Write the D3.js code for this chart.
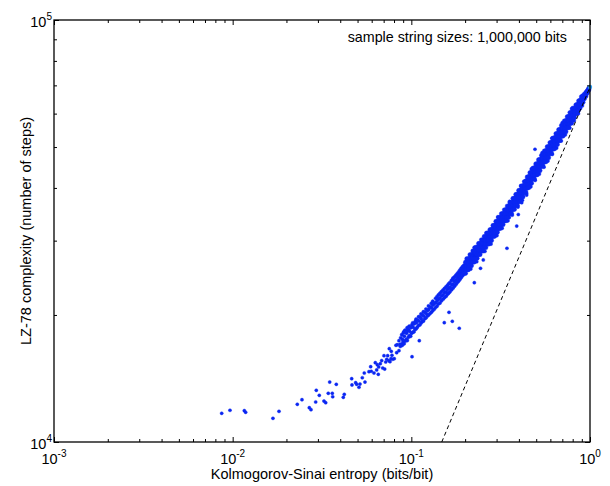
<!DOCTYPE html>
<html><head><meta charset="utf-8">
<script src="https://cdn.jsdelivr.net/npm/d3@7"></script>
<style>
body{margin:0;background:#fff}
svg{display:block}
text{font-family:"Liberation Sans",Arial,Helvetica,sans-serif;fill:#000}
</style>
</head><body>
<svg id="chart" width="610" height="486"></svg>
<script>
// ---------- data ----------
const xMajor = [0.001, 0.01, 0.1, 1];
const xTickExp = ["-3", "-2", "-1", "0"];
const yMajor = [1e4, 1e5];
const yTickExp = ["4", "5"];
const xTitle = "Kolmogorov-Sinai entropy (bits/bit)";
const yTitle = "LZ-78 complexity (number of steps)";
const note = "sample string sizes: 1,000,000 bits";

// sparse low-entropy tail [entropy, complexity]
const tailPoints = [[0.00868,11695],[0.00966,11890],[0.01162,11865],[0.01182,11760],[0.01681,11380],[0.01817,11820],[0.02300,12285],[0.02443,12595],[0.02685,12057],[0.02744,11929],[0.02915,12440],[0.02938,13260],[0.03054,12900],[0.03244,12505],[0.03316,12390],[0.03429,13045],[0.03492,13870],[0.03611,13045],[0.03630,12800],[0.03802,13700],[0.04161,12760],[0.04215,12970],[0.04636,14125],[0.04654,13650],[0.04880,13820],[0.04944,13700],[0.05093,13480],[0.05160,13720],[0.05315,14200],[0.05454,14570],[0.05503,13870],[0.05794,14680],[0.05922,15080],[0.05968,14710],[0.06180,14570],[0.06284,15415],[0.06398,14815],[0.06448,15250],[0.06565,15060],[0.06532,14470],[0.06703,15330],[0.06824,15590],[0.06913,14975],[0.07030,16015],[0.07094,14890],[0.07186,15475],[0.07279,15705],[0.07373,16015],[0.07469,15590],[0.07526,16640],[0.07595,15500],[0.07692,15755],[0.07722,16405],[0.07791,16050],[0.07862,15705],[0.08025,15755],[0.08203,16950],[0.08278,16280],[0.08342,17005],[0.08526,17380],[0.08526,16460],[0.08636,17045]];

// points falling below / beside the main band
const outlierPoints = [[0.1009,15925],[0.1108,17380],[0.1529,19180],[0.1696,19320],[0.1855,18600],[0.1625,20290],[0.2252,23850],[0.2439,25800],[0.2528,27000],[0.3430,28780],[0.3889,32490],[0.3969,34600],[0.4147,36900],[0.4421,38480],[0.4922,49400]];

// transition zone of the band
const transitionPoints = [[0.0868,16850],[0.0872,17650],[0.0880,17050],[0.0884,17950],[0.0889,16950],[0.0893,17500],[0.0898,17250],[0.0903,18150],[0.0911,17100],[0.0914,17800],[0.0910,18250],[0.0925,17350],[0.0922,18400],[0.0937,17500],[0.0940,18100],[0.0949,17400],[0.0952,18350],[0.0948,18650],[0.0962,17700],[0.0964,18450],[0.0974,17850],[0.0977,18300],[0.0973,18800],[0.0990,17800],[0.0992,18650],[0.1004,18100],[0.1007,18950],[0.1019,18200],[0.1022,18700],[0.1018,19150],[0.1035,18250],[0.1037,19050],[0.1049,18500],[0.1052,19300],[0.1064,18550],[0.1067,19150],[0.1063,19550],[0.1079,18700],[0.1082,19450],[0.1099,18900],[0.1102,19350],[0.1098,19800],[0.1117,18950],[0.1120,19750],[0.1134,19150],[0.1137,19600],[0.1133,20100],[0.1150,19300],[0.1152,20000],[0.1169,19350],[0.1172,19900],[0.1168,20350],[0.1189,19600],[0.1192,20300],[0.1209,19700],[0.1212,20150],[0.1208,20650],[0.1229,19900],[0.1232,20500],[0.1249,20000],[0.1252,20600],[0.1248,21000],[0.1271,20150],[0.1274,20900],[0.1294,20300],[0.1297,20800],[0.1293,21300],[0.1319,20500],[0.1322,21100],[0.1318,21550],[0.1344,20650],[0.1347,21300],[0.1369,20850],[0.1372,21400],[0.1368,21900],[0.1394,21000],[0.1397,21650],[0.1393,22100],[0.1419,21250],[0.1422,21800],[0.1418,22300],[0.1446,21350],[0.1449,21950],[0.1445,22500],[0.1474,21600],[0.1477,22200],[0.1473,22700],[0.1504,21800],[0.1507,22350],[0.1503,22900],[0.1534,22000],[0.1537,22600],[0.1533,23100],[0.1564,22150],[0.1567,22700],[0.1563,23300],[0.1594,22400],[0.1597,23000],[0.1593,23500],[0.1619,22550],[0.1622,23150],[0.1618,23700],[0.1645,22700],[0.1648,23250],[0.1644,23850],[0.1679,22950],[0.1682,23550],[0.1678,24150],[0.1709,23150],[0.1712,23700],[0.1708,24250],[0.1711,24450],[0.1744,23400],[0.1747,24000],[0.1743,24600],[0.1779,23650],[0.1782,24250],[0.1778,24850],[0.1814,23900],[0.1817,24500],[0.1813,25100],[0.1816,24800],[0.1844,24100],[0.1847,24700],[0.1843,25300],[0.1871,24300],[0.1874,24950],[0.1870,25550],[0.1873,25200],[0.1904,24550],[0.1907,25150],[0.1903,25800],[0.1906,25450],[0.1939,24800],[0.1942,25400],[0.1938,26050],[0.1941,25700],[0.1974,25000],[0.1977,25600],[0.1973,26250],[0.1976,25950]];

// dense band: [entropy, [complexities at that entropy]]
const bandRows = [
[0.2010,[25100,25620,26010,26140,26660]],[0.2045,[25600,26125,26255,26650,27175]],[0.2085,[25606,26137,26535,26668,27198]],
[0.2130,[26179,26716,26850,27253,27790]],[0.2170,[26176,26718,27125,27261,27803]],[0.2210,[26720,27268,27405,27816,28364]],
[0.2250,[26706,27260,27675,27813,28367]],[0.2290,[27246,27805,27945,28364,28923]],[0.2335,[27256,27821,28245,28386,28951]],
[0.2380,[27826,28397,28540,28968,29539]],[0.2423,[27821,28398,28830,28974,29551]],[0.2470,[28382,28964,29110,29547,30129]],
[0.2515,[28352,28939,29380,29527,30115]],[0.2560,[28904,29497,29645,30090,30683]],[0.2610,[28887,29486,29935,30085,30683]],
[0.2660,[29469,30074,30225,30678,31283]],[0.2710,[29442,30052,30510,30663,31273]],[0.2756,[30001,30616,30770,31232,31847]],
[0.2810,[30036,30658,31125,31281,31903]],[0.2865,[30703,31333,31490,31962,32592]],[0.2920,[30730,31367,31845,32004,32641]],
[0.2975,[31400,32044,32205,32688,33332]],[0.3030,[31416,32067,32555,32718,33369]],[0.3080,[32053,32711,32875,33368,34026]],
[0.3133,[32048,32712,33210,33376,34040]],[0.3195,[32731,33402,33570,34074,34745]],[0.3260,[32757,33436,33945,34115,34794]],
[0.3320,[33433,34119,34290,34804,35490]],[0.3385,[33447,34140,34660,34833,35527]],[0.3445,[34125,34825,35000,35525,36225]],
[0.3505,[34093,34800,35330,35507,36213]],[0.3565,[34768,35482,35660,36195,36908]],[0.3635,[34808,35529,36070,36250,36972]],
[0.3705,[35568,36298,36480,37027,37757]],[0.3775,[35594,36332,36885,37069,37807]],[0.3845,[36353,37099,37285,37844,38590]],
[0.3920,[36400,37154,37720,37909,38663]],[0.3990,[37157,37919,38110,38682,39444]],[0.4056,[37133,37903,38480,38672,39442]],
[0.4135,[38015,38795,38990,39575,40355]],[0.4215,[38117,38907,39500,39698,40488]],[0.4295,[39010,39810,40010,40610,41410]],
[0.4375,[39097,39907,40515,40718,41528]],[0.4455,[39990,40810,41015,41630,42451]],[0.4535,[40062,40892,41515,41723,42553]],
[0.4614,[40950,41790,42000,42630,43470]],[0.4705,[41032,41882,42520,42733,43583]],[0.4795,[41959,42820,43035,43681,44541]],
[0.4885,[42026,42897,43550,43768,44639]],[0.4975,[42958,43840,44060,44721,45602]],[0.5065,[43000,43892,44560,44783,45674]],
[0.5155,[43933,44835,45060,45736,46637]],[0.5249,[43985,44896,45580,45808,46720]],[0.5355,[45006,45929,46160,46852,47776]],
[0.5455,[45070,46004,46705,46939,47873]],[0.5560,[46093,47039,47275,47984,48930]],[0.5660,[46141,47098,47815,48054,49010]],
[0.5765,[47161,48128,48370,49096,50063]],[0.5865,[47188,48166,48900,49145,50123]],[0.5972,[48243,49233,49480,50222,51212]],
[0.6090,[48346,49348,50100,50351,51353]],[0.6210,[49452,50466,50720,51481,52495]],[0.6330,[49543,50570,51340,51597,52624]],
[0.6450,[50656,51695,51955,52734,53773]],[0.6570,[50725,51777,52565,52828,53879]],[0.6680,[51792,52854,53120,53917,54979]],
[0.6792,[51811,52885,53690,53958,55032]],[0.6925,[52996,54083,54355,55170,56257]],[0.7060,[53094,54195,55020,55295,56396]],
[0.7195,[54298,55412,55690,56525,57639]],[0.7330,[54373,55500,56345,56627,57754]],[0.7465,[55575,56715,57000,57855,58995]],
[0.7595,[55613,56766,57630,57918,59071]],[0.7727,[56833,57999,58290,59164,60330]],[0.7880,[56954,58135,59020,59315,60496]],
[0.8030,[58237,59431,59730,60626,61821]],[0.8185,[58767,59735,60460,60702,61669]],[0.8340,[59956,60935,61180,61914,62893]],
[0.8490,[60142,61132,61875,62123,63113]],[0.8640,[61319,62320,62570,63321,64322]],[0.8790,[61849,62734,63240,63619,64505]],
[0.8960,[63094,63992,64120,64889,65787]],[0.9135,[63850,64630,65020,65410,66190]],[0.9310,[65124,65915,66706]],
[0.9490,[66028,66696,67365]],[0.9670,[67198,67740,68011]],[0.9840,[68247,68590,68864]]
];

// ragged edges of the dense band
const edgePoints = [[0.215,25700],[0.232,26750],[0.258,28300],[0.279,29450],[0.301,30850],[0.322,32100],[0.347,33450],[0.367,34500],[0.395,36050],[0.418,37400],[0.441,38800],[0.466,40250],[0.493,41700],[0.520,43150],[0.552,44800],[0.581,46350],[0.615,48050],[0.650,49750],[0.690,51700],[0.727,53450],[0.770,55500],[0.815,57700],[0.860,60000],[0.905,62600],[0.225,28900],[0.262,31300],[0.305,34150],[0.355,37150],[0.410,40500],[0.470,44350],[0.540,48450],[0.612,52450],[0.700,57100],[0.790,61600]];

const endPoint = [1.0, 69380];
const boundLine = [[0.148, 10000], [1.0, 69380]];

// ---------- drawing ----------
const svg = d3.select("#chart");
const L = 54, R = 590, T = 20, B = 442;
const x = d3.scaleLog().domain([1e-3, 1]).range([L, R]);
const y = d3.scaleLog().domain([1e4, 1e5]).range([B, T]);

const bandPoints = bandRows.flatMap(([h, cs]) => cs.map(c => [h, c]));
const dotColor = "#0a26f2";

function dots(data, r) {
  svg.append("g").selectAll("circle").data(data).join("circle")
    .attr("cx", d => x(d[0])).attr("cy", d => y(d[1])).attr("r", r)
    .attr("fill", dotColor).attr("stroke", dotColor).attr("stroke-width", 0.4);
}
dots(tailPoints, 1.6);
dots(transitionPoints, 1.7);
dots(edgePoints, 1.7);
dots(bandPoints, 2.2);
dots(outlierPoints, 1.6);

svg.append("circle").attr("cx", x(endPoint[0])).attr("cy", y(endPoint[1]))
  .attr("r", 2.2).attr("fill", "#2a9df4");

svg.append("path").datum(boundLine)
  .attr("d", d3.line().x(d => x(d[0])).y(d => y(d[1])))
  .attr("fill", "none").attr("stroke", "#000").attr("stroke-width", 1)
  .attr("stroke-dasharray", "4,3");

// axes with inward ticks on all sides
const xMinor = x.ticks().filter(v => !xMajor.some(m => Math.abs(m - v) / m < 1e-6));
const yMinor = y.ticks().filter(v => !yMajor.some(m => Math.abs(m - v) / m < 1e-6));

function addAxis(axisFn, scale, vals, size, transform) {
  const g = svg.append("g").attr("transform", transform)
    .call(axisFn(scale).tickValues(vals).tickSize(-size).tickFormat(""));
  g.select(".domain").remove();
  g.selectAll("line").attr("stroke", "#000").attr("stroke-width", 1);
}
addAxis(d3.axisBottom, x, xMinor, 3, `translate(0,${B})`);
addAxis(d3.axisBottom, x, xMajor, 5, `translate(0,${B})`);
addAxis(d3.axisTop, x, xMinor, 3, `translate(0,${T})`);
addAxis(d3.axisTop, x, xMajor, 5, `translate(0,${T})`);
addAxis(d3.axisLeft, y, yMinor, 3, `translate(${L},0)`);
addAxis(d3.axisLeft, y, yMajor, 5, `translate(${L},0)`);
addAxis(d3.axisRight, y, yMinor, 3, `translate(${R},0)`);
addAxis(d3.axisRight, y, yMajor, 5, `translate(${R},0)`);

svg.append("rect").attr("x", L).attr("y", T).attr("width", R - L).attr("height", B - T)
  .attr("fill", "none").attr("stroke", "#000").attr("stroke-width", 1.3);

// tick labels
xMajor.forEach((v, i) => {
  const t = svg.append("text").attr("x", x(v)).attr("y", B + 22)
    .attr("text-anchor", "middle").attr("font-size", 14.5);
  t.append("tspan").text("10");
  t.append("tspan").attr("dy", -7).attr("font-size", 10).text(xTickExp[i]);
});
yMajor.forEach((v, i) => {
  const t = svg.append("text").attr("x", L - 2).attr("y", y(v) + 7)
    .attr("text-anchor", "end").attr("font-size", 14.5);
  t.append("tspan").text("10");
  t.append("tspan").attr("dy", -7).attr("font-size", 10).text(yTickExp[i]);
});

// titles
svg.append("text").attr("x", (L + R) / 2).attr("y", 479)
  .attr("text-anchor", "middle").attr("font-size", 14.5).text(xTitle);
svg.append("text").attr("transform", `translate(31,${(T + B) / 2}) rotate(-90)`)
  .attr("text-anchor", "middle").attr("font-size", 14.5).text(yTitle);
svg.append("text").attr("x", 567).attr("y", 42)
  .attr("text-anchor", "end").attr("font-size", 14.3).text(note);
</script>
</body></html>
